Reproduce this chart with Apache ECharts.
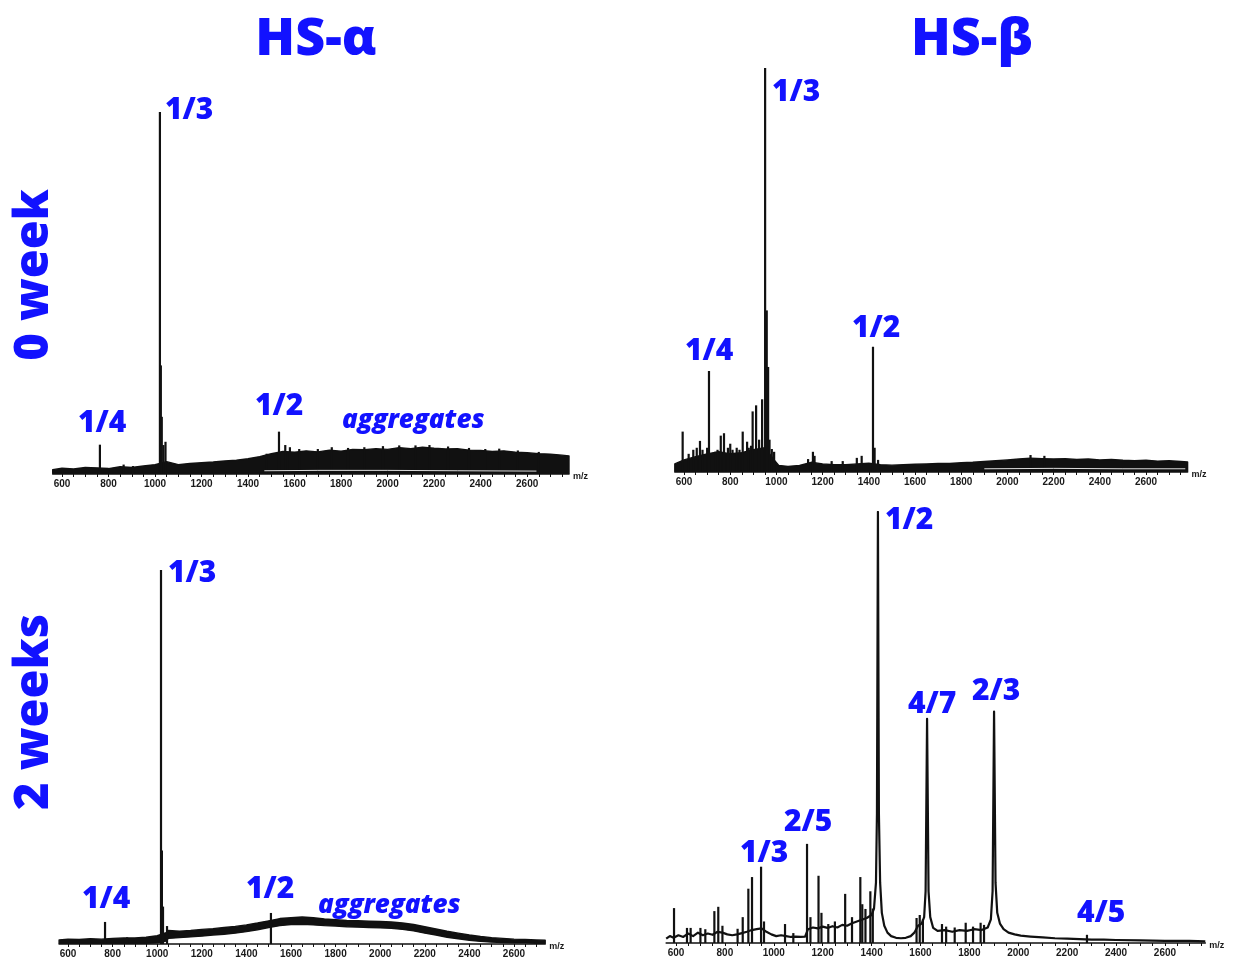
<!DOCTYPE html>
<html>
<head>
<meta charset="utf-8">
<script src="https://cdn.jsdelivr.net/npm/echarts@6/dist/echarts.min.js"></script>
<style>
  html, body { margin: 0; padding: 0; background: #fff; }
  #chart { width: 1238px; height: 966px; }
</style>
</head>
<body>
<div id="chart"></div>
<script>
// m/z tick labels shared by all four spectra
const TICK_LABELS = [600, 800, 1000, 1200, 1400, 1600, 1800, 2000, 2200, 2400, 2600];

// Noise / aggregate band of each spectrum: [m/z, lower edge, upper edge] (relative intensity, %)
const alpha0Band = [
  [560, 0.2, 1.2], [600, 0.2, 1.6], [650, 0.2, 1.4], [700, 0.2, 1.8], [750, 0.2, 1.7],
  [800, 0.2, 1.5], [850, 0.2, 2.0], [900, 0.2, 1.8], [950, 0.2, 2.2], [1000, 0.2, 2.6],
  [1050, 0.2, 3.4], [1100, 0.2, 2.6], [1150, 0.2, 2.9], [1200, 0.2, 3.1], [1250, 0.2, 3.3],
  [1300, 0.2, 3.6], [1350, 0.2, 3.8], [1400, 0.2, 4.2], [1450, 0.2, 4.8], [1500, 0.2, 5.6],
  [1550, 0.2, 6.2], [1600, 0.2, 6.0], [1650, 0.2, 6.4], [1700, 0.2, 6.1], [1750, 0.2, 6.6],
  [1800, 0.2, 6.3], [1850, 0.2, 6.8], [1900, 0.2, 6.7], [1950, 0.2, 7.0], [2000, 0.2, 6.8],
  [2050, 0.2, 7.3], [2100, 0.2, 7.0], [2150, 0.2, 7.4], [2200, 0.2, 7.1], [2250, 0.2, 6.9],
  [2300, 0.2, 7.0], [2350, 0.2, 6.6], [2400, 0.2, 6.5], [2450, 0.2, 6.2], [2500, 0.2, 6.4],
  [2550, 0.2, 6.0], [2600, 0.2, 5.9], [2650, 0.2, 5.6], [2700, 0.2, 5.5], [2750, 0.2, 5.2],
  [2780, 0.2, 5.0]
];
const beta0Band = [
  [560, 0.2, 2.0], [600, 0.2, 3.0], [650, 0.2, 3.8], [700, 0.2, 4.5], [750, 0.2, 5.0],
  [800, 0.2, 4.5], [850, 0.2, 4.8], [900, 0.2, 5.5], [950, 0.2, 6.0], [990, 0.2, 3.0],
  [1010, 0.2, 1.6], [1050, 0.2, 1.4], [1100, 0.2, 1.6], [1150, 0.2, 2.4], [1200, 0.2, 2.0],
  [1250, 0.2, 1.8], [1300, 0.2, 1.8], [1350, 0.2, 2.0], [1400, 0.2, 2.2], [1450, 0.2, 1.8],
  [1500, 0.2, 1.7], [1550, 0.2, 1.8], [1600, 0.2, 1.9], [1650, 0.2, 2.0], [1700, 0.2, 2.1],
  [1750, 0.2, 2.1], [1800, 0.2, 2.3], [1850, 0.2, 2.4], [1900, 0.2, 2.6], [1950, 0.2, 2.8],
  [2000, 0.2, 3.0], [2050, 0.2, 3.2], [2100, 0.2, 3.4], [2150, 0.2, 3.3], [2200, 0.2, 3.2],
  [2250, 0.2, 3.3], [2300, 0.2, 3.1], [2350, 0.2, 3.2], [2400, 0.2, 3.0], [2450, 0.2, 3.1],
  [2500, 0.2, 2.9], [2550, 0.2, 2.8], [2600, 0.2, 2.9], [2650, 0.2, 2.7], [2700, 0.2, 2.8],
  [2750, 0.2, 2.6], [2780, 0.2, 2.5]
];
const alpha2Band = [
  [560, 0.2, 1.1], [600, 0.2, 1.3], [650, 0.2, 1.2], [700, 0.2, 1.4], [750, 0.2, 1.3],
  [800, 0.2, 1.5], [850, 0.2, 1.6], [900, 0.2, 1.6], [950, 0.2, 1.8], [1000, 0.3, 2.2],
  [1040, 0.8, 3.0], [1050, 1.5, 3.6], [1100, 1.7, 3.4], [1150, 1.9, 3.6], [1200, 2.1, 3.9],
  [1250, 2.4, 4.1], [1300, 2.6, 4.4], [1350, 2.9, 4.7], [1400, 3.3, 5.1], [1450, 3.8, 5.6],
  [1500, 4.4, 6.2], [1550, 4.9, 6.8], [1600, 5.2, 7.0], [1650, 5.3, 7.2], [1700, 5.1, 7.0],
  [1750, 4.9, 6.7], [1800, 4.8, 6.5], [1850, 4.6, 6.3], [1900, 4.5, 6.2], [1950, 4.4, 6.1],
  [2000, 4.3, 6.0], [2050, 4.2, 5.9], [2100, 3.9, 5.6], [2150, 3.5, 5.2], [2200, 2.9, 4.6],
  [2250, 2.4, 4.0], [2300, 1.8, 3.4], [2350, 1.4, 2.9], [2400, 1.0, 2.4], [2450, 0.7, 2.0],
  [2500, 0.5, 1.7], [2550, 0.4, 1.5], [2600, 0.3, 1.3], [2650, 0.3, 1.2], [2700, 0.2, 1.1],
  [2740, 0.2, 1.0]
];

// Thin gap between the two overlapping noise traces: [m/z, intensity]
const alpha0Gap = [[1470, 0.9], [1700, 1.0], [2000, 1.0], [2300, 0.9], [2640, 0.8]];
const beta0Gap = [[1900, 0.8], [2200, 0.9], [2500, 0.8], [2770, 0.8]];

// Continuous trace of the HS-β 2-week spectrum: [m/z, intensity]
const beta2Trace = [
  [560, 1.0], [575, 1.6], [590, 1.2], [610, 1.8], [630, 1.4], [650, 2.2], [670, 1.6], [690, 2.4],
  [710, 1.8], [730, 2.2], [750, 1.9], [770, 2.6], [790, 2.4], [810, 2.0], [830, 1.8], [850, 2.0],
  [870, 2.3], [890, 2.6], [910, 3.0], [930, 3.2], [950, 3.4], [970, 2.6], [990, 2.0], [1010, 1.6],
  [1030, 1.8], [1050, 1.6], [1070, 1.4], [1090, 1.5], [1110, 1.4], [1128, 1.5], [1140, 3.2],
  [1160, 3.6], [1180, 3.4], [1200, 3.8], [1220, 3.5], [1240, 3.9], [1260, 3.6], [1280, 4.2],
  [1300, 4.0], [1320, 4.6], [1340, 5.0], [1360, 5.4], [1380, 5.8], [1400, 6.5], [1410, 8.0],
  [1418, 14], [1422, 30], [1426, 100], [1430, 30], [1435, 14], [1442, 7], [1452, 4], [1465, 2.4],
  [1480, 1.6], [1500, 1.2], [1520, 1.1], [1540, 1.2], [1560, 1.6], [1575, 2.4], [1590, 4.0],
  [1605, 4.5], [1615, 6], [1621, 12], [1627, 52], [1633, 12], [1640, 6], [1652, 3.5],
  [1670, 2.8], [1700, 3.0], [1730, 2.6], [1760, 3.0], [1790, 2.8], [1820, 3.2], [1850, 3.0],
  [1875, 3.6], [1888, 5.5], [1895, 12], [1901, 53.7], [1907, 14], [1914, 7], [1925, 4.5],
  [1940, 3.2], [1960, 2.4], [1985, 2.0], [2010, 1.7], [2050, 1.5], [2100, 1.3], [2150, 1.1],
  [2200, 1.0], [2250, 0.9], [2300, 0.8], [2350, 0.8], [2400, 0.7], [2500, 0.6], [2600, 0.5],
  [2700, 0.5], [2765, 0.4]
];

// Narrow ion peaks: [m/z, intensity]
const alpha0Peaks = [
  [763, 8.1], [865, 2.6], [905, 2.2], [1021, 100], [1025, 30], [1029, 15.8], [1036, 8],
  [1045, 8.9], [1480, 5.6], [1533, 11.7], [1560, 8.0], [1580, 7.4], [1620, 6.9], [1700, 6.9],
  [1760, 7.4], [1830, 7.2], [1900, 7.4], [1980, 7.7], [2050, 7.9], [2120, 7.9], [2180, 8.0],
  [2260, 7.6], [2350, 7.2], [2420, 6.9], [2480, 7.0], [2560, 6.5], [2650, 6.1]
];
const beta0Peaks = [
  [594, 10], [620, 4.5], [640, 5.5], [655, 6], [669, 7.7], [680, 5.5], [700, 6], [708, 25],
  [735, 5], [745, 5.5], [759, 9], [773, 9.6], [790, 6], [800, 7], [810, 5.5], [828, 6],
  [840, 5.5], [854, 10], [873, 7.5], [880, 6], [890, 6.5], [897, 15], [912, 16.5], [925, 8],
  [938, 18], [951, 100], [958, 40], [964, 26], [970, 8], [980, 5.7], [990, 5], [1137, 3.2],
  [1158, 5], [1165, 4], [1239, 2.7], [1287, 2.7], [1348, 3.5], [1369, 4], [1418, 31], [1425, 6],
  [1440, 3], [2100, 4.2], [2160, 4.0]
];
const alpha2Peaks = [
  [766, 5.9], [865, 1.8], [1017, 100], [1021, 25], [1026, 10], [1044, 4.8], [1510, 8.3]
];
const beta2Peaks = [
  [592, 8.1], [645, 3.5], [660, 3.5], [700, 3.5], [720, 3.2], [757, 7.4], [773, 8.4], [790, 4],
  [852, 3.3], [873, 6], [896, 12.6], [911, 15.3], [948, 17.7], [960, 5], [1046, 4.4], [1080, 2.3],
  [1136, 23], [1150, 6], [1183, 15.6], [1195, 7], [1223, 4.4], [1250, 5], [1292, 11.4], [1320, 6],
  [1354, 15.3], [1362, 9], [1375, 7.9], [1395, 12], [1405, 8], [1584, 5.8], [1597, 6.5],
  [1610, 5.5], [1688, 4.4], [1705, 3.8], [1740, 3.6], [1785, 4.7], [1815, 3.8], [1846, 4.7],
  [1860, 4.2], [2281, 1.9]
];

// Peak assignments written above the spectra: [text, left x, middle y]
const alpha0Labels = [['1/3', 165, 110], ['1/4', 78, 423], ['1/2', 255, 406]];
const beta0Labels = [['1/3', 772, 92], ['1/4', 685, 351], ['1/2', 852, 328]];
const alpha2Labels = [['1/3', 168, 573], ['1/4', 82, 899], ['1/2', 246, 889]];
const beta2Labels = [['1/2', 885, 520], ['4/7', 908, 704], ['2/3', 972, 691], ['2/5', 784, 822],
  ['1/3', 740, 853], ['4/5', 1077, 913]];

const BLUE = '#1212ff';
const INK = '#111';

// Panel layout (pixels) and m/z range of each axis
const panels = [
  { band: alpha0Band, gap: alpha0Gap, peaks: alpha0Peaks, labels: alpha0Labels, agg: [342, 421],
    grid: { left: 52.7, top: 112, width: 516.3, height: 362 }, min: 560, max: 2780 },
  { band: beta0Band, gap: beta0Gap, peaks: beta0Peaks, labels: beta0Labels,
    grid: { left: 674.8, top: 68, width: 512.8, height: 404 }, min: 560, max: 2780 },
  { band: alpha2Band, peaks: alpha2Peaks, labels: alpha2Labels, agg: [318, 906],
    grid: { left: 59.1, top: 570, width: 486.1, height: 374 }, min: 560, max: 2740 },
  { trace: beta2Trace, peaks: beta2Peaks, labels: beta2Labels,
    grid: { left: 666.2, top: 512, width: 539.1, height: 431 }, min: 560, max: 2765 }
];

const minorTicks = [];
for (let v = 600; v <= 2750; v += 50) minorTicks.push(v);

// Filled band between lower and upper edges, drawn as one polygon
function bandRenderer(rows) {
  return function (params, api) {
    if (params.dataIndex !== 0) return null;
    const top = rows.map(r => api.coord([r[0], r[2]]));
    const bottom = rows.slice().reverse().map(r => api.coord([r[0], r[1]]));
    return {
      type: 'polygon',
      shape: { points: top.concat(bottom) },
      style: { fill: INK, stroke: INK, lineWidth: 1.4, lineJoin: 'round' }
    };
  };
}

const grids = [], xAxes = [], yAxes = [], series = [], graphics = [];

panels.forEach((p, i) => {
  grids.push(Object.assign({ containLabel: false }, p.grid));
  xAxes.push({
    type: 'value', gridIndex: i, min: p.min, max: p.max,
    axisLine: { show: true, lineStyle: { color: INK, width: 1.6 } },
    axisTick: { show: true, customValues: minorTicks, length: 3, lineStyle: { color: INK, width: 1 } },
    axisLabel: {
      customValues: TICK_LABELS, margin: 5, color: '#1a1a1a', fontSize: 10,
      fontWeight: 'bold', fontFamily: 'Liberation Sans', formatter: v => String(v)
    },
    splitLine: { show: false }
  });
  yAxes.push({ type: 'value', gridIndex: i, min: 0, max: 100, show: false });

  if (p.band) {
    series.push({
      type: 'custom', xAxisIndex: i, yAxisIndex: i, silent: true, z: 2,
      data: p.band, encode: { x: 0, y: [1, 2] },
      renderItem: bandRenderer(p.band)
    });
  }
  if (p.gap) {
    series.push({
      type: 'line', xAxisIndex: i, yAxisIndex: i, symbol: 'none', silent: true, z: 4,
      data: p.gap, lineStyle: { color: '#fff', width: 1, opacity: 0.85 }
    });
  }
  if (p.trace) {
    series.push({
      type: 'line', xAxisIndex: i, yAxisIndex: i, symbol: 'none', silent: true,
      data: p.trace, lineStyle: { color: INK, width: 2.2, join: 'round' }
    });
  }
  series.push({
    type: 'bar', xAxisIndex: i, yAxisIndex: i, barWidth: 2.2, silent: true, z: 3,
    data: p.peaks, itemStyle: { color: INK }
  });

  p.labels.forEach(([t, x, y]) => graphics.push({
    type: 'text', x: x, y: y,
    style: { text: t, fill: BLUE, fontSize: 30, fontWeight: 800, fontFamily: 'Open Sans',
      align: 'left', verticalAlign: 'middle' }
  }));
  if (p.agg) graphics.push({
    type: 'text', x: p.agg[0], y: p.agg[1],
    style: { text: 'aggregates', fill: BLUE, fontSize: 26, fontWeight: 800, fontStyle: 'italic',
      fontFamily: 'Open Sans', align: 'left', verticalAlign: 'middle' }
  });
  const g = p.grid;
  graphics.push({
    type: 'text', x: g.left + g.width + 4, y: g.top + g.height + 3,
    style: { text: 'm/z', fill: '#1a1a1a', fontSize: 9, fontWeight: 'bold', fontFamily: 'Liberation Sans',
      align: 'left', verticalAlign: 'middle' }
  });
});

// Column and row headings
[['HS-α', 316, 40], ['HS-β', 972, 40]].forEach(([t, x, y]) => graphics.push({
  type: 'text', x: x, y: y,
  style: { text: t, fill: BLUE, fontSize: 52, fontWeight: 800, fontFamily: 'Open Sans',
    align: 'center', verticalAlign: 'middle' }
}));
[['0 week', 35, 275], ['2 weeks', 35, 712]].forEach(([t, x, y]) => graphics.push({
  type: 'text', x: x, y: y, rotation: Math.PI / 2,
  style: { text: t, fill: BLUE, fontSize: 47, fontWeight: 800, fontFamily: 'Open Sans',
    align: 'center', verticalAlign: 'middle' }
}));

const chart = echarts.init(document.getElementById('chart'), null, { renderer: 'canvas' });
chart.setOption({
  animation: false,
  backgroundColor: '#fff',
  grid: grids,
  xAxis: xAxes,
  yAxis: yAxes,
  series: series,
  graphic: graphics
});
</script>
</body>
</html>
